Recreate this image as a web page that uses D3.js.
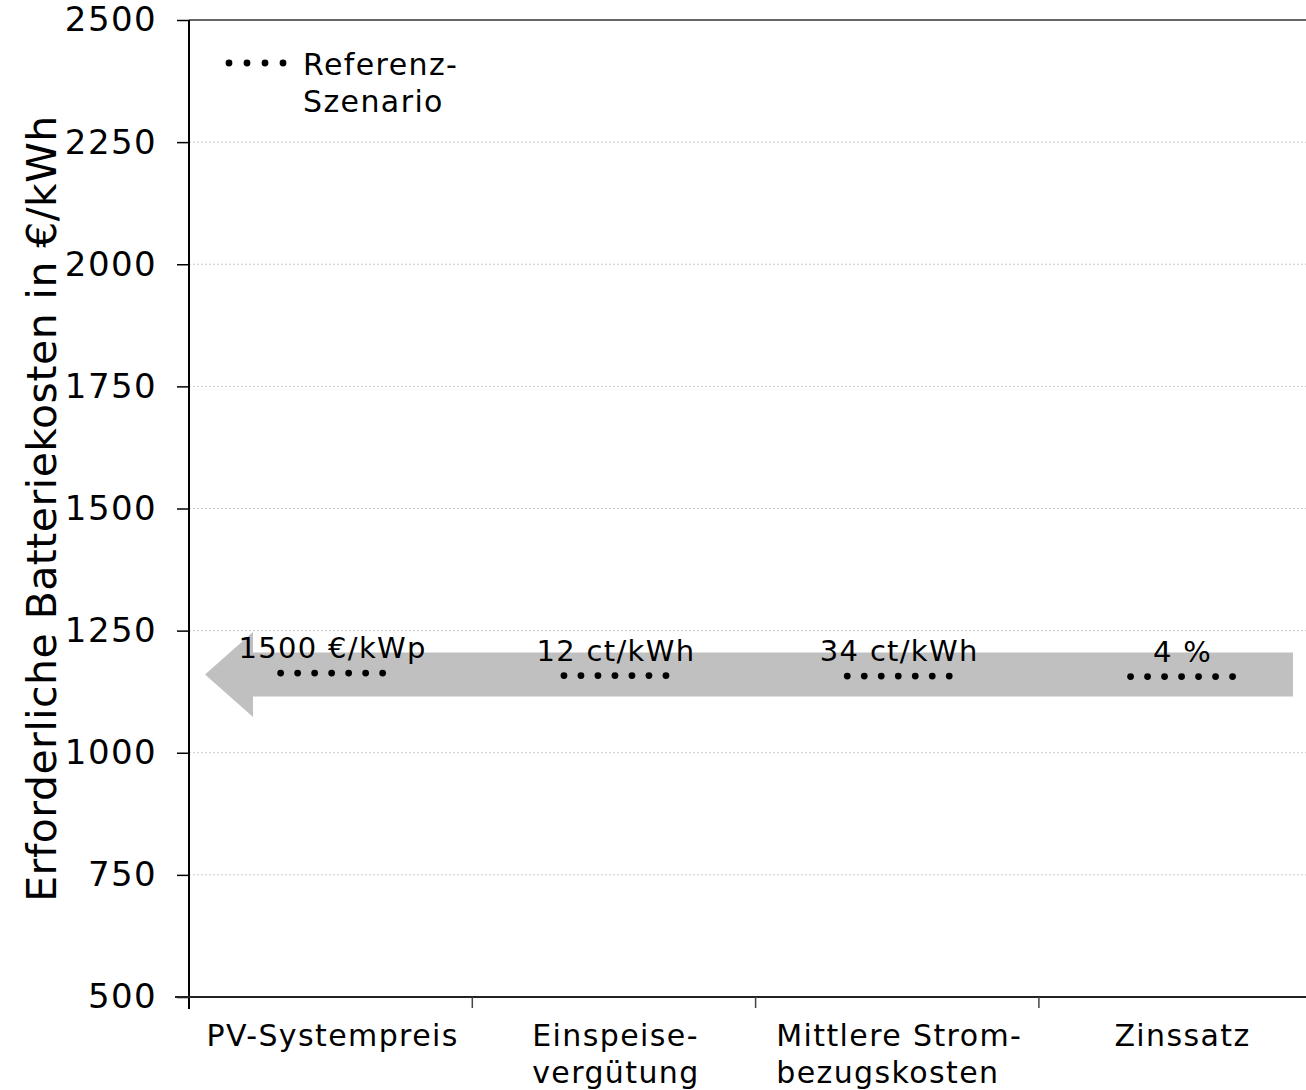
<!DOCTYPE html>
<html>
<head>
<meta charset="utf-8">
<script src="https://cdn.jsdelivr.net/npm/d3@7"></script>
<style>
  html, body { margin: 0; padding: 0; background: #fff; }
  svg { display: block; font-family: "DejaVu Sans", Verdana, sans-serif; }
</style>
</head>
<body>
<svg id="chart" width="1306" height="1090"></svg>
<script>
// Sensitivity parameters (x categories, each label can wrap onto two lines)
const categories = ["PV-Systempreis", "Einspeise-vergütung", "Mittlere Strom-bezugskosten", "Zinssatz"];
const categoryLines = [["PV-Systempreis"], ["Einspeise-", "vergütung"], ["Mittlere Strom-", "bezugskosten"], ["Zinssatz"]];
// Reference-scenario value of each parameter and the required battery cost there
const referenceLabels = ["1500 €/kWp", "12 ct/kWh", "34 ct/kWh", "4 %"];
const referenceCost = [1163, 1158, 1157, 1156];
// Level of the grey arrow running through the reference points
const arrowLevel = 1160;
const yTicks = [500, 750, 1000, 1250, 1500, 1750, 2000, 2250, 2500];
const yDomain = [500, 2500];

const svg = d3.select("#chart");
const plotLeft = 189, plotTop = 20, plotBottom = 997, band = 283.3;

const x = d3.scaleBand()
  .domain(categories)
  .range([plotLeft, plotLeft + band * categories.length])
  .paddingInner(0).paddingOuter(0);

const y = d3.scaleLinear().domain(yDomain).range([plotBottom, plotTop]);

// Horizontal grid lines
svg.append("g")
  .selectAll("line")
  .data(yTicks.filter(t => t !== yDomain[0]))
  .join("line")
  .attr("x1", plotLeft).attr("x2", 1306)
  .attr("y1", d => y(d)).attr("y2", d => y(d))
  .attr("stroke", d => d === yDomain[1] ? "#666" : "#c8c8c8")
  .attr("stroke-width", d => d === yDomain[1] ? 2 : 1)
  .attr("stroke-dasharray", d => d === yDomain[1] ? null : "2,2");

// Grey arrow pointing leftwards
const cy = y(arrowLevel);
const tipX = plotLeft + 16, headX = plotLeft + 64, endX = 1293;
const bodyHalf = 22, headHalf = 42.5;
svg.append("path")
  .attr("d", d3.line()([
    [tipX, cy], [headX, cy - headHalf], [headX, cy - bodyHalf],
    [endX, cy - bodyHalf], [endX, cy + bodyHalf], [headX, cy + bodyHalf],
    [headX, cy + headHalf]
  ]) + "Z")
  .attr("fill", "#c0c0c0");

// Reference-scenario markers: a short row of round dots per parameter
const dotCount = 7, dotStep = 17, dotR = 3.4;
const dotOffsets = d3.range(dotCount).map(k => (k - (dotCount - 1) / 2) * dotStep);
svg.append("g")
  .selectAll("g")
  .data(categories)
  .join("g")
  .attr("transform", (d, i) => `translate(${x(d) + x.bandwidth() / 2 + 1},${y(referenceCost[i])})`)
  .selectAll("circle")
  .data(dotOffsets)
  .join("circle")
  .attr("cx", d => d).attr("cy", 0).attr("r", dotR)
  .attr("fill", "#000");

// Reference value labels
svg.append("g")
  .selectAll("text")
  .data(categories)
  .join("text")
  .attr("x", d => x(d) + x.bandwidth() / 2 + 2)
  .attr("y", (d, i) => y(referenceCost[i]) - 15)
  .attr("text-anchor", "middle")
  .attr("font-size", 29)
  .attr("letter-spacing", 1.3)
  .attr("fill", "#000")
  .text((d, i) => referenceLabels[i]);

// Y axis
const yAxis = d3.axisLeft(y).tickValues(yTicks).tickSize(12).tickPadding(20).tickFormat(d3.format("d"));
const gy = svg.append("g").attr("transform", `translate(${plotLeft},0)`).call(yAxis);
gy.select(".domain").attr("stroke", "#000").attr("stroke-width", 2)
  .attr("d", `M0,${plotTop}V${plotBottom + 12}`);
gy.selectAll(".tick line").attr("stroke", "#000").attr("stroke-width", 1.5);
gy.selectAll(".tick text").attr("font-size", 34).attr("letter-spacing", 1.4).attr("fill", "#000")
  .attr("font-family", "DejaVu Sans, Verdana, sans-serif");

// X axis
const gx = svg.append("g").attr("transform", `translate(0,${plotBottom})`);
gx.append("line").attr("x1", plotLeft - 14).attr("x2", 1306).attr("y1", 0).attr("y2", 0)
  .attr("stroke", "#222").attr("stroke-width", 2);
gx.selectAll("line.tick")
  .data(categories.slice(1))
  .join("line")
  .attr("class", "tick")
  .attr("x1", d => x(d)).attr("x2", d => x(d))
  .attr("y1", 0).attr("y2", 11)
  .attr("stroke", "#444").attr("stroke-width", 1.5);

// Category labels: lines left-aligned inside a block centred on the band
const catFont = 30, lineH = 37;
categories.forEach((c, i) => {
  const t = svg.append("text")
    .attr("font-size", catFont)
    .attr("letter-spacing", 1.4)
    .attr("fill", "#000");
  categoryLines[i].forEach((ln, j) => {
    t.append("tspan").attr("x", 0).attr("y", 1046 + j * lineH).text(ln);
  });
  const w = t.node().getBBox().width;
  const cx = x(c) + x.bandwidth() / 2 + 2;
  t.selectAll("tspan").attr("x", cx - w / 2);
});

// Y axis title
svg.append("text")
  .attr("transform", `translate(56,${(plotTop + plotBottom) / 2}) rotate(-90)`)
  .attr("text-anchor", "middle")
  .attr("font-size", 41)
  .attr("letter-spacing", 0.45)
  .attr("fill", "#000")
  .text("Erforderliche Batteriekosten in €/kWh");

// Legend
const lg = svg.append("g");
lg.selectAll("circle")
  .data(d3.range(4))
  .join("circle")
  .attr("cx", k => 229 + k * 18).attr("cy", 63).attr("r", dotR)
  .attr("fill", "#000");
const lt = lg.append("text").attr("font-size", 30).attr("letter-spacing", 1.4).attr("fill", "#000");
lt.append("tspan").attr("x", 303).attr("y", 75).text("Referenz-");
lt.append("tspan").attr("x", 303).attr("y", 112).text("Szenario");
</script>
</body>
</html>
